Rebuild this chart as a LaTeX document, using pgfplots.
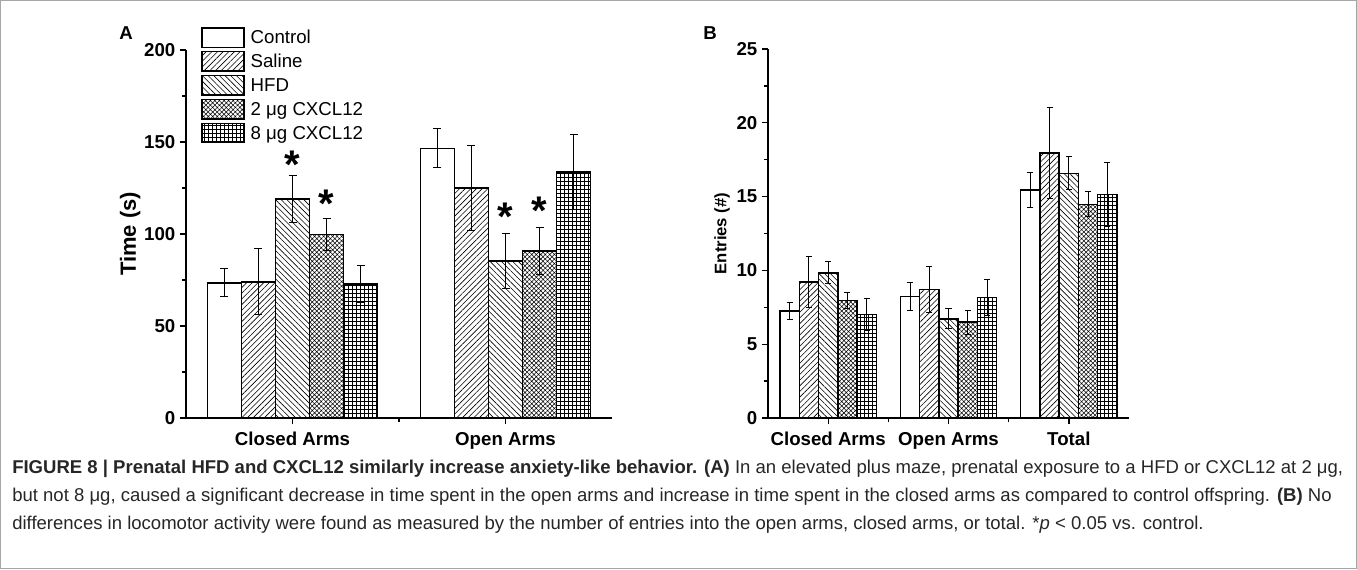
\documentclass[border=0pt]{standalone}
\usepackage{pgfplots}
\pgfplotsset{compat=1.18}
\usepackage{fontspec}
\setmainfont{Liberation Sans}
\usetikzlibrary{patterns.meta}

\pgfplotsset{
  mybars/.style={
    scale only axis,
    axis lines=left,
    axis line style={-, line width=1.1pt},
    tick align=outside,
    major tick length=4.5pt,
    minor tick length=3pt,
    every tick/.style={black, line width=1pt},
    ybar=0pt,
    bar width=0.16,
    ymin=0,
    tick label style={font=\fontsize{14}{15}\selectfont\bfseries},
    xticklabel style={yshift=-2.5pt},
    /pgf/number format/assume math mode=true,
    error bars/y dir=both,
    error bars/y explicit,
    error bars/error bar style={line width=0.75pt, black},
    error bars/error mark options={line width=0.75pt, black, mark size=3pt, rotate=90},
    every axis plot/.append style={draw=black, line width=1.1pt},
  },
  pS/.style={pattern={Lines[angle=45,distance=3pt,line width=0.45pt]}},
  pH/.style={pattern={Lines[angle=-45,distance=3pt,line width=0.45pt]}},
  p2/.style={pattern={Hatch[angle=45,distance=2.4pt,line width=0.4pt]}},
  p8/.style={pattern={Hatch[angle=0,distance=3pt,line width=0.4pt]}},
}

\begin{document}
\begin{tikzpicture}
% frame
\draw[gray!70, line width=0.8pt] (0.4pt,-0.4pt) rectangle (1017.35pt,-426.35pt);

% ---------- Panel A ----------
\begin{axis}[mybars,
  at={(139.5pt,-313.5pt)}, anchor=south west,
  width=319.5pt, height=276pt,
  xmin=-0.5, xmax=1.5, ymax=200,
  xtick={0,1}, xticklabels={Closed Arms, Open Arms},
  minor xtick={0.5},
  ytick={0,50,100,150,200}, minor ytick={25,75,125,175},
  ylabel={Time (s)},
  ylabel style={at={(axis description cs:-0.131,0.5)}, anchor=center, font=\fontsize{16.5}{18}\selectfont\bfseries},
  legend style={at={(axis description cs:0.035,1.063)}, anchor=north west,
    draw=none, fill=none, inner sep=0pt, row sep=2.2pt, column sep=4.5pt,
    font=\fontsize{14}{16}\selectfont,
    nodes={inner sep=0pt, text height=12pt, text depth=3pt, anchor=west}},
  legend cell align=left,
  legend image code/.code={\draw[#1, line width=1.1pt] (0pt,-7.3pt) rectangle (31.5pt,7.3pt);},
]
\addplot[fill=white] coordinates {(0,73.5) +- (0,7.5) (1,146.6) +- (0,10.5)};
\addplot[pS] coordinates {(0,74.0) +- (0,18.0) (1,125.0) +- (0,23.0)};
\addplot[pH] coordinates {(0,119.0) +- (0,13.0) (1,85.3) +- (0,15.0)};
\addplot[p2] coordinates {(0,99.8) +- (0,8.5) (1,90.8) +- (0,13.0)};
\addplot[p8] coordinates {(0,72.8) +- (0,10.0) (1,133.7) +- (0,20.6)};
\legend{Control, Saline, HFD, 2 μg CXCL12, 8 μg CXCL12}
\node[anchor=north, inner sep=0pt, font=\fontsize{30}{30}\selectfont\bfseries] at (axis cs:0,145.5) {*};
\node[anchor=north, inner sep=0pt, font=\fontsize{30}{30}\selectfont\bfseries] at (axis cs:0.16,124) {*};
\node[anchor=north, inner sep=0pt, font=\fontsize{30}{30}\selectfont\bfseries] at (axis cs:1,117) {*};
\node[anchor=north, inner sep=0pt, font=\fontsize{30}{30}\selectfont\bfseries] at (axis cs:1.16,120) {*};
\end{axis}

% ---------- Panel B ----------
\begin{axis}[mybars,
  at={(576pt,-313.5pt)}, anchor=south west,
  width=270.75pt, height=276.75pt,
  xmin=-0.5, xmax=2.5, ymax=25,
  xtick={0,1,2}, xticklabels={Closed Arms, Open Arms, Total},
  minor xtick={0.5,1.5},
  ytick={0,5,10,15,20,25}, minor ytick={2.5,7.5,12.5,17.5,22.5},
  ylabel={Entries (\#)},
  ylabel style={at={(axis description cs:-0.127,0.5)}, anchor=center, font=\fontsize{12.5}{14}\selectfont\bfseries},
  error bars/error mark options={line width=0.75pt, black, mark size=2.3pt, rotate=90},
]
\addplot[fill=white] coordinates {(0,7.24) +- (0,0.58) (1,8.22) +- (0,0.93) (2,15.45) +- (0,1.18)};
\addplot[pS] coordinates {(0,9.20) +- (0,1.74) (1,8.71) +- (0,1.58) (2,17.94) +- (0,3.10)};
\addplot[pH] coordinates {(0,9.84) +- (0,0.73) (1,6.72) +- (0,0.68) (2,16.58) +- (0,1.12)};
\addplot[p2] coordinates {(0,7.97) +- (0,0.56) (1,6.49) +- (0,0.80) (2,14.48) +- (0,0.85)};
\addplot[p8] coordinates {(0,7.00) +- (0,1.07) (1,8.17) +- (0,1.22) (2,15.16) +- (0,2.17)};
\end{axis}

% panel letters
\node[font=\fontsize{14}{16}\selectfont\bfseries] at (94.5pt,-24.75pt) {A};
\node[font=\fontsize{14}{16}\selectfont\bfseries] at (532.5pt,-24.75pt) {B};

% caption
\node[anchor=north west, align=left, inner sep=0pt, text=black!85,
  font=\fontsize{13.9}{21}\selectfont] at (9pt,-345pt) {%
\textbf{FIGURE 8 | Prenatal HFD and CXCL12 similarly increase anxiety-like behavior. (A)} In an elevated plus maze, prenatal exposure to a HFD or CXCL12 at 2 μg,\\
but not 8 μg, caused a significant decrease in time spent in the open arms and increase in time spent in the closed arms as compared to control offspring. \textbf{(B)} No\\
differences in locomotor activity were found as measured by the number of entries into the open arms, closed arms, or total. *\textit{p} < 0.05 vs. control.};
\end{tikzpicture}
\end{document}
